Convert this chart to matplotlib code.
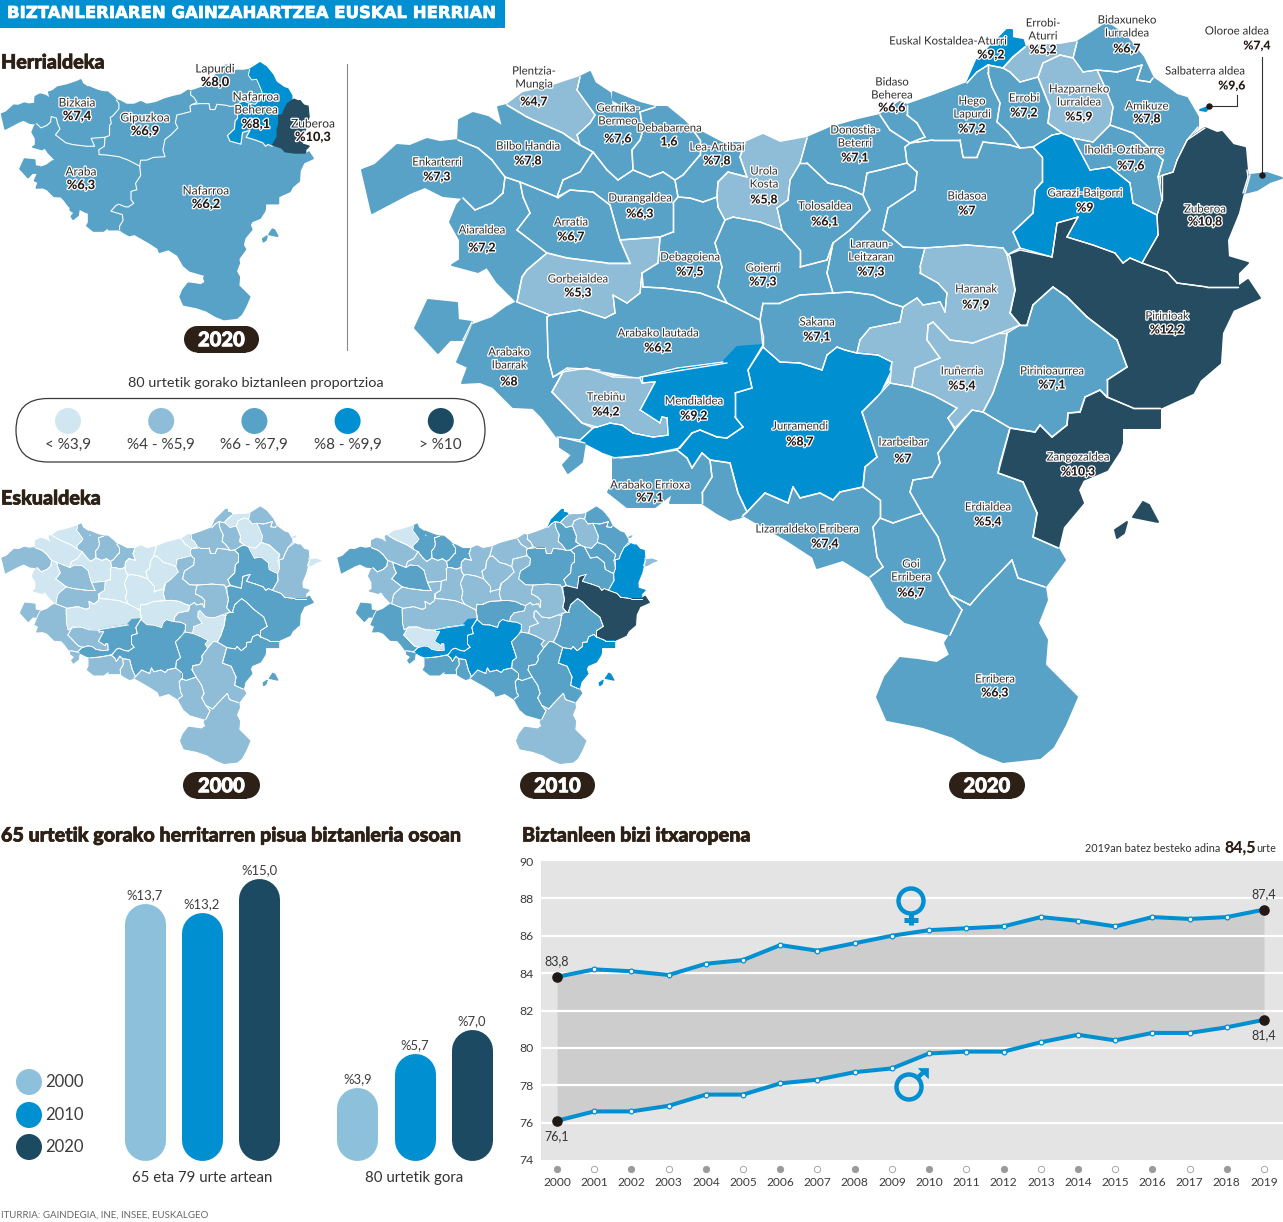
"""Biztanleriaren gainzahartzea Euskal Herrian: mapak, barrak eta bizi itxaropena."""
import matplotlib
matplotlib.use("Agg")
import matplotlib.pyplot as plt
import matplotlib.patheffects as pe
import numpy as np
from matplotlib.collections import LineCollection
from matplotlib.patches import Circle, FancyBboxPatch, Polygon

plt.rcParams["font.family"] = ["Lato", "DejaVu Sans"]

W, H = 1283, 1222
INK = "#2d2016"
GREY = "#3c3c3c"
BLUE = "#0090d2"
CLASS_COLORS = ["#d0e6f0", "#8fbdd7", "#59a2c7", "#0090d2", "#264c62"]
BAR_COLORS = ["#8dc0db", "#0090d2", "#1c4a63"]

# Eskualdeen ingeradak, 2020ko mapa handiaren pixeletan
outlines = {
    "Enkarterri": [(362,170),(375,165),(397,145),(410,146),(427,139),(440,142),(458,140),(478,148),(492,160),(505,177),(503,193),(492,203),(475,210),(463,198),(443,196),(425,187),(410,193),(372,213)],
    "Bilbo Handia": [(458,140),(459,120),(473,113),(488,117),(503,127),(498,107),(507,105),(527,117),(538,122),(563,133),(580,145),(593,152),(580,172),(563,180),(557,197),(540,190),(520,182),(505,177),(492,160),(478,148)],
    "Plentzia-Mungia": [(507,105),(523,93),(550,87),(580,77),(577,90),(595,115),(590,123),(577,135),(580,145),(563,133),(538,122),(527,117)],
    "Gernika-Bermeo": [(580,77),(590,72),(595,83),(610,93),(612,107),(625,107),(613,100),(613,92),(625,97),(640,103),(655,107),(640,112),(643,130),(640,140),(632,150),(633,170),(618,180),(607,170),(593,152),(580,145),(577,135),(590,123),(595,115),(577,90)],
    "Debabarrena": [(640,112),(655,107),(667,107),(683,120),(693,130),(700,140),(700,155),(683,175),(675,180),(663,172),(650,177),(633,170),(632,150),(640,140),(643,130)],
    "Lea-Artibai": [(693,130),(703,133),(722,143),(745,143),(740,157),(747,177),(728,172),(718,182),(717,197),(703,202),(690,198),(678,197),(675,180),(683,175),(700,155),(700,140)],
    "Urola Kosta": [(745,143),(763,135),(780,143),(807,138),(800,163),(790,180),(788,200),(777,208),(782,230),(760,222),(733,217),(725,220),(718,207),(717,197),(718,182),(728,172),(747,177),(740,157)],
    "Donostia-Beterri": [(807,138),(830,128),(858,120),(880,115),(890,130),(910,143),(905,147),(907,163),(880,170),(867,173),(863,195),(845,187),(828,183),(807,163),(800,163)],
    "Tolosaldea": [(790,180),(800,163),(807,163),(828,183),(845,187),(863,195),(870,210),(850,230),(833,243),(827,260),(800,267),(800,250),(782,230),(777,208),(788,200)],
    "Bidaso Beherea": [(880,115),(900,102),(907,105),(907,115),(917,123),(925,137),(910,143),(890,130)],
    "Hego Lapurdi": [(907,105),(933,96),(967,83),(977,72),(988,65),(988,73),(992,87),(1000,103),(997,122),(1008,132),(1020,148),(1010,145),(983,142),(977,157),(963,157),(960,140),(933,140),(910,143),(925,137),(917,123),(907,115)],
    "Euskal Kostaldea-Aturri": [(967,83),(977,60),(1000,37),(1007,30),(1012,30),(1012,38),(1023,40),(1025,47),(1013,57),(1003,68),(988,65),(977,72)],
    "Errobi-Aturri": [(1003,68),(1013,57),(1025,47),(1040,45),(1060,45),(1077,42),(1073,58),(1060,55),(1043,63),(1038,77),(1020,82),(1010,72)],
    "Errobi": [(988,65),(1003,68),(1010,72),(1020,82),(1038,77),(1042,87),(1050,107),(1048,123),(1062,133),(1052,135),(1033,147),(1020,148),(1008,132),(997,122),(1000,103),(992,87),(988,73)],
    "Hazparneko Iurraldea": [(1038,77),(1043,63),(1060,55),(1073,58),(1083,72),(1097,70),(1103,83),(1113,107),(1110,125),(1093,142),(1073,138),(1062,133),(1048,123),(1050,107),(1042,87)],
    "Bidaxuneko Iurraldea": [(1077,42),(1093,32),(1107,23),(1125,35),(1143,57),(1153,78),(1150,82),(1137,80),(1142,65),(1117,72),(1097,70),(1083,72),(1073,58)],
    "Amikuze": [(1097,70),(1117,72),(1142,65),(1137,80),(1150,82),(1153,78),(1177,95),(1187,98),(1198,117),(1198,127),(1187,140),(1177,160),(1173,172),(1158,177),(1163,160),(1133,133),(1110,125),(1113,107),(1103,83)],
    "Iholdi-Oztibarre": [(1110,125),(1133,133),(1163,160),(1158,177),(1162,200),(1157,215),(1133,203),(1130,183),(1110,167),(1090,170),(1073,138),(1093,142)],
    "Garazi-Baigorri": [(1033,147),(1052,135),(1062,133),(1073,138),(1090,170),(1110,167),(1130,183),(1133,203),(1157,215),(1158,235),(1142,263),(1130,258),(1123,263),(1115,253),(1093,245),(1067,237),(1078,217),(1057,223),(1052,257),(1020,248),(1013,232),(1033,213),(1035,190),(1042,182),(1042,157)],
    "Zuberoa": [(1205,128),(1217,133),(1222,132),(1233,145),(1245,148),(1247,170),(1248,177),(1243,193),(1238,213),(1227,240),(1228,257),(1248,263),(1238,273),(1238,287),(1207,287),(1177,283),(1167,272),(1142,263),(1158,235),(1157,215),(1162,200),(1162,175),(1173,172),(1177,160),(1187,140)],
    "Oloroe aldea": [(1245,193),(1250,175),(1267,173),(1282,178),(1270,182),(1257,190)],
    "Salbaterra aldea": [(1200,110),(1210,106),(1206,111)],
    "Pirinioak": [(1007,255),(1020,250),(1052,257),(1057,223),(1078,217),(1067,237),(1093,245),(1115,253),(1123,263),(1130,258),(1142,263),(1167,272),(1177,283),(1207,287),(1238,287),(1248,280),(1260,298),(1233,310),(1222,333),(1220,363),(1200,380),(1193,393),(1160,408),(1133,408),(1107,397),(1107,380),(1127,367),(1117,340),(1087,317),(1067,297),(1053,287),(1033,305),(1027,325),(1020,325),(1010,313),(1015,290)],
    "Zangozaldea": [(1100,390),(1107,397),(1133,408),(1160,408),(1160,428),(1122,428),(1122,443),(1120,450),(1107,470),(1083,480),(1078,490),(1083,503),(1063,527),(1058,548),(1033,537),(1037,513),(1023,482),(998,473),(1000,463),(1010,428),(1035,432),(1040,425),(1052,437),(1067,425),(1068,413),(1080,412),(1085,397)],
    "Zangozaldea uhartea 1": [(1143,502),(1149,505),(1158,522),(1133,517)],
    "Zangozaldea uhartea 2": [(1127,522),(1124,533),(1117,538),(1115,530)],
    "Pirinioaurrea": [(1053,287),(1067,297),(1087,317),(1117,340),(1127,367),(1107,380),(1107,397),(1100,390),(1085,397),(1080,412),(1068,413),(1067,425),(1052,437),(1040,425),(1035,432),(1010,428),(983,412),(993,393),(1003,363),(1007,333),(1020,325),(1027,325),(1033,305)],
    "Iruñerria": [(912,387),(915,368),(940,358),(927,340),(928,325),(933,322),(950,340),(973,343),(1000,333),(1007,333),(1003,363),(993,393),(983,412),(972,410),(955,428),(948,418),(957,408),(933,395)],
    "Haranak": [(920,267),(925,248),(967,245),(1003,248),(1010,257),(1015,290),(1010,313),(1020,325),(1000,333),(973,343),(950,340),(933,322),(928,325),(927,340),(940,358),(915,368),(912,387),(890,383),(892,362),(878,355),(857,353),(860,340),(870,328),(900,322),(903,307),(917,298),(923,305),(940,302),(945,312),(947,293),(938,283),(920,273)],
    "Larraun-Leitzaran": [(863,195),(867,173),(880,170),(907,163),(917,172),(915,190),(888,208),(883,230),(903,247),(925,248),(920,267),(920,273),(938,283),(947,293),(945,312),(940,302),(923,305),(917,298),(903,307),(890,303),(873,295),(850,292),(833,293),(827,273),(833,243),(850,230),(870,210)],
    "Bidasoa": [(910,143),(933,140),(960,140),(963,157),(977,157),(983,142),(1010,145),(1020,148),(1033,147),(1042,157),(1042,182),(1035,190),(1033,213),(1013,232),(1020,248),(1007,255),(1003,248),(967,245),(925,248),(903,247),(883,230),(888,208),(915,190),(917,172),(907,163),(905,147)],
    "Sakana": [(760,320),(763,303),(780,303),(800,295),(833,293),(850,292),(873,295),(890,303),(903,307),(900,322),(870,328),(860,340),(857,353),(845,350),(837,347),(827,355),(822,370),(800,363),(780,362),(763,347),(763,335)],
    "Goierri": [(725,220),(733,217),(760,222),(782,230),(800,250),(800,267),(827,260),(833,243),(827,273),(833,293),(800,295),(780,303),(763,303),(760,320),(727,303),(718,287),(722,267),(715,243)],
    "Debagoiena": [(678,197),(690,198),(703,202),(717,197),(718,207),(725,220),(715,243),(722,267),(718,287),(727,303),(700,293),(663,288),(643,287),(642,273),(658,263),(660,237),(673,232),(673,203)],
    "Durangaldea": [(593,152),(607,170),(618,180),(633,170),(650,177),(663,172),(675,180),(678,197),(673,203),(673,232),(660,237),(620,240),(617,230),(610,205),(593,192),(570,190),(558,198),(557,197),(563,180),(580,172)],
    "Arratia": [(520,182),(540,190),(557,197),(570,190),(593,192),(610,205),(617,230),(620,240),(630,263),(607,263),(567,258),(547,253),(517,230),(530,213),(523,197)],
    "Aiaraldea": [(505,177),(520,182),(523,197),(530,213),(517,230),(547,253),(527,270),(522,277),(517,302),(497,282),(487,267),(478,272),(452,265),(460,260),(460,240),(450,222),(457,205),(463,198),(475,210),(492,203),(503,193)],
    "Gorbeialdea": [(547,253),(567,258),(607,263),(630,263),(620,240),(660,237),(658,263),(642,273),(640,293),(627,303),(613,295),(615,313),(605,318),(580,310),(550,315),(517,302),(522,277),(527,270)],
    "Arabako lautada": [(550,315),(580,310),(605,318),(615,313),(613,295),(627,303),(640,293),(642,273),(643,287),(663,288),(700,293),(727,303),(760,320),(763,347),(737,352),(727,363),(683,370),(640,377),(600,370),(567,368),(553,377),(548,357),(547,317)],
    "Arabako Ibarrak": [(517,302),(550,315),(547,317),(548,357),(553,377),(563,372),(552,392),(582,423),(593,428),(580,440),(557,437),(542,417),(533,408),(513,407),(493,387),(480,382),(462,383),(468,367),(457,362),(473,325),(492,318),(507,307)],
    "Arabako Ibarrak enklabea": [(415,328),(428,300),(457,303),(458,320),(472,322),(463,340),(450,340),(438,353)],
    "Arabako Ibarrak hegoa": [(560,437),(585,443),(582,462),(568,473),(563,465),(572,455),(560,447)],
    "Trebiñu": [(563,372),(587,368),(613,377),(640,378),(642,383),(655,382),(640,410),(660,423),(662,417),(667,418),(668,435),(653,437),(633,433),(622,425),(610,423),(597,427),(582,423),(552,392)],
    "Mendialdea": [(642,377),(677,368),(723,362),(737,347),(763,345),(748,370),(752,388),(735,393),(735,417),(743,427),(727,438),(717,437),(700,430),(692,433),(680,448),(647,455),(620,458),(603,452),(580,440),(593,428),(597,427),(610,423),(622,425),(633,433),(653,437),(668,435),(667,418),(662,417),(660,423),(640,410),(655,382),(642,383)],
    "Jurramendi": [(763,347),(780,362),(800,363),(822,370),(827,355),(837,347),(845,350),(857,353),(878,355),(892,362),(890,370),(877,397),(862,412),(877,457),(865,467),(863,487),(840,492),(833,500),(820,493),(800,498),(793,487),(788,503),(765,493),(747,512),(738,493),(730,463),(710,460),(702,453),(692,468),(687,458),(677,450),(692,433),(700,430),(717,437),(727,438),(743,427),(735,417),(735,393),(752,388),(748,370)],
    "Arabako Errioxa": [(613,458),(647,455),(677,450),(687,458),(692,468),(702,453),(710,460),(712,477),(702,493),(702,503),(670,503),(673,493),(655,507),(627,507),(608,492),(613,483)],
    "Errioxa ekialdea": [(710,460),(730,463),(738,493),(747,512),(742,517),(730,520),(717,513),(702,503),(702,493),(712,477)],
    "Lizarraldeko Erribera": [(747,512),(765,493),(788,503),(793,487),(800,498),(820,493),(833,500),(840,492),(863,487),(880,500),(880,518),(873,527),(877,557),(883,567),(870,577),(843,560),(817,568),(813,557),(787,540),(743,515)],
    "Izarbeibar": [(890,383),(912,387),(933,395),(957,408),(948,418),(955,430),(938,453),(940,463),(932,477),(913,480),(910,492),(922,513),(893,523),(880,518),(880,500),(863,487),(865,467),(877,457),(862,412),(877,397)],
    "Erdialdea": [(955,430),(972,410),(983,412),(1010,428),(998,473),(1023,482),(1037,513),(1033,537),(1058,548),(1065,560),(1045,587),(1018,578),(1012,560),(983,590),(970,605),(950,595),(938,573),(945,560),(938,537),(922,513),(910,492),(913,480),(932,477),(940,463),(938,453)],
    "Goi Erribera": [(880,518),(893,523),(922,513),(938,537),(945,560),(938,573),(950,595),(962,610),(950,635),(905,622),(887,607),(870,577),(883,567),(877,557),(873,527)],
    "Erribera": [(950,595),(970,605),(983,590),(1012,560),(1018,578),(1045,587),(1047,600),(1038,623),(1047,640),(1045,665),(1057,677),(1077,697),(1065,725),(1053,747),(1040,758),(1003,762),(980,753),(953,737),(923,727),(887,720),(877,697),(885,677),(900,658),(918,660),(937,663),(950,655),(945,643),(950,635),(962,610)],
}

# Koloreen klasea eskualde bakoitzean (outlines-en ordena berean); -1: ez da marrazten
region_names = list(outlines)
class_2000 = [1,0,0,1,1,1,0,0,0,0,1,1,0,1,0,1,1,0,2,1,0,0,2,2,2,2,2,0,1,1,1,0,0,0,0,1,0,1,0,1,1,1,1,2,2,1,1,1,2,1,1,1]
class_2010 = [2,1,0,2,2,2,1,1,1,1,1,3,1,2,1,2,2,2,2,3,1,1,4,3,3,3,2,1,1,1,2,2,1,1,1,2,1,1,1,2,2,2,0,3,3,2,2,2,2,2,2,1]
class_2020 = [2,2,1,2,2,2,1,2,2,2,2,3,1,2,1,2,2,2,3,4,2,3,4,4,4,4,2,1,1,2,2,2,2,2,2,2,2,1,2,2,2,2,1,3,3,2,2,2,2,2,2,2]
class_province = [2,2,2,2,2,2,2,2,2,2,2,2,2,2,2,3,3,3,3,4,-1,-1,2,2,2,2,2,2,2,2,2,2,2,2,2,2,2,2,2,2,2,2,2,2,2,2,2,2,2,2,2,2]

# Herrialdeen arteko mugak (mapa handiaren pixeletan)
province_borders = [
    [(463,198),(475,210),(492,203),(503,193),(505,177),(520,182),(523,197),(530,213),(517,230),(547,253),(567,258),(607,263),(630,263),(620,240),(660,237)],
    [(693,130),(700,140),(700,155),(683,175),(675,180),(678,197),(673,203),(673,232),(660,237),(658,263),(642,273),(643,287),(663,288),(700,293),(727,303),(760,320)],
    [(760,320),(763,303),(780,303),(800,295),(833,293),(827,273),(833,243),(850,230),(870,210),(863,195),(867,173),(880,170),(907,163),(905,147),(910,143),(925,137),(917,123),(907,115),(907,105)],
    [(760,320),(763,347),(748,370),(752,388),(735,393),(735,417),(743,427),(727,438),(717,437),(700,430),(692,433),(677,450),(710,460),(712,477),(702,493),(702,503)],
    [(910,143),(933,140),(960,140),(963,157),(977,157),(983,142),(1010,145),(1020,148),(1033,147),(1052,135),(1062,133),(1073,138),(1093,142),(1110,125),(1113,107),(1103,83),(1097,70),(1083,72),(1073,58),(1077,42)],
    [(1033,147),(1042,157),(1042,182),(1035,190),(1033,213),(1013,232),(1020,248),(1052,257),(1057,223),(1078,217),(1067,237),(1093,245),(1115,253),(1123,263),(1130,258),(1142,263)],
]

# Mapa handiko etiketak: izena (lerroka), balioa, x, lehen lerroaren y, balioaren x eta y
region_labels = [
    (["Plentzia-", "Mungia"], "%4,7", 534, 71, 534, 102),
    (["Gernika-", "Bermeo"], "%7,6", 618, 108, 618, 139),
    (["Debabarrena"], "1,6", 669, 128, 669, 142),
    (["Lea-Artibai"], "%7,8", 717, 147, 717, 161),
    (["Bilbo Handia"], "%7,8", 528, 146, 528, 161),
    (["Enkarterri"], "%7,3", 437, 162, 437, 177),
    (["Durangaldea"], "%6,3", 640, 198, 640, 214),
    (["Arratia"], "%6,7", 571, 222, 571, 237),
    (["Aiaraldea"], "%7,2", 482, 230, 482, 248),
    (["Urola", "Kosta"], "%5,8", 764, 171, 764, 200),
    (["Donostia-", "Beterri"], "%7,1", 855, 130, 855, 158),
    (["Tolosaldea"], "%6,1", 825, 206, 825, 222),
    (["Bidaso", "Beherea"], "%6,6", 892, 82, 892, 108),
    (["Hego", "Lapurdi"], "%7,2", 972, 101, 972, 129),
    (["Euskal Kostaldea-Aturri"], "%9,2", 948, 41, 991, 55),
    (["Errobi-", "Aturri"], "%5,2", 1043, 23, 1043, 50),
    (["Errobi"], "%7,2", 1024, 98, 1024, 113),
    (["Hazparneko", "Iurraldea"], "%5,9", 1079, 89, 1079, 117),
    (["Bidaxuneko", "Iurraldea"], "%6,7", 1127, 20, 1127, 49),
    (["Amikuze"], "%7,8", 1147, 106, 1147, 119),
    (["Iholdi-Oztibarre"], "%7,6", 1124, 150, 1131, 166),
    (["Bidasoa"], "%7", 967, 196, 967, 211),
    (["Garazi-Baigorri"], "%9", 1085, 193, 1085, 208),
    (["Zuberoa"], "%10,8", 1205, 209, 1205, 222),
    (["Oloroe aldea"], "%7,4", 1237, 31, 1257, 46),
    (["Salbaterra aldea"], "%9,6", 1205, 71, 1232, 86),
    (["Larraun-", "Leitzaran"], "%7,3", 871, 244, 871, 272),
    (["Debagoiena"], "%7,5", 690, 257, 690, 272),
    (["Goierri"], "%7,3", 763, 268, 763, 282),
    (["Gorbeialdea"], "%5,3", 578, 279, 578, 293),
    (["Haranak"], "%7,9", 976, 289, 976, 305),
    (["Pirinioak"], "%12,2", 1167, 316, 1167, 330),
    (["Sakana"], "%7,1", 817, 322, 817, 337),
    (["Arabako lautada"], "%6,2", 658, 333, 658, 348),
    (["Arabako", "Ibarrak"], "%8", 509, 352, 509, 382),
    (["Iruñerria"], "%5,4", 962, 371, 962, 386),
    (["Pirinioaurrea"], "%7,1", 1052, 371, 1052, 385),
    (["Trebiñu"], "%4,2", 606, 397, 606, 412),
    (["Mendialdea"], "%9,2", 694, 401, 694, 416),
    (["Jurramendi"], "%8,7", 800, 426, 800, 442),
    (["Izarbeibar"], "%7", 903, 442, 903, 459),
    (["Zangozaldea"], "%10,3", 1078, 457, 1078, 472),
    (["Arabako Errioxa"], "%7,1", 650, 485, 650, 498),
    (["Erdialdea"], "%5,4", 988, 507, 988, 522),
    (["Lizarraldeko Erribera"], "%7,4", 807, 529, 825, 544),
    (["Goi", "Erribera"], "%6,7", 911, 564, 911, 593),
    (["Erribera"], "%6,3", 995, 679, 995, 693),
]
province_labels = [
    (["Lapurdi"], "%8,0", 215, 69, 215, 82),
    (["Bizkaia"], "%7,4", 77, 103, 77, 116),
    (["Gipuzkoa"], "%6,9", 145, 118, 145, 131),
    (["Nafarroa", "Beherea"], "%8,1", 256, 97, 256, 124),
    (["Zuberoa"], "%10,3", 313, 124, 313, 137),
    (["Araba"], "%6,3", 81, 172, 81, 185),
    (["Nafarroa"], "%6,2", 206, 191, 206, 204),
]

legend_labels = ["< %3,9", "%4 - %5,9", "%6 - %7,9", "%8 - %9,9", "> %10"]

# Barrak
bar_years = ["2000", "2010", "2020"]
bar_groups = ["65 eta 79 urte artean", "80 urtetik gora"]
bars_65_79 = [13.7, 13.2, 15.0]
bars_80 = [3.9, 5.7, 7.0]

# Bizi itxaropena
years = list(range(2000, 2020))
women = [83.8, 84.2, 84.1, 83.9, 84.5, 84.7, 85.5, 85.2, 85.6, 86.0, 86.3, 86.4, 86.5, 87.0, 86.8, 86.5, 87.0, 86.9, 87.0, 87.4]
men = [76.1, 76.6, 76.6, 76.9, 77.5, 77.5, 78.1, 78.3, 78.7, 78.9, 79.7, 79.8, 79.8, 80.3, 80.7, 80.4, 80.8, 80.8, 81.1, 81.5]


def px_axes(fig, left, top, right, bottom, **kw):
    return fig.add_axes([left / W, 1 - bottom / H, (right - left) / W, (bottom - top) / H], **kw)


def inner_segments(max_dist=3.0):
    # beste eskualde baten ondoan dauden zatiak bakarrik dira barne mugak; kostaldeak ez
    segs, owner = [], []
    for i, name in enumerate(region_names):
        pts = outlines[name]
        for a, b in zip(pts, pts[1:] + pts[:1]):
            segs.append((a, b))
            owner.append(i)
    segs = np.array(segs, dtype=float)
    owner = np.array(owner)
    a, b = segs[:, 0], segs[:, 1]
    d = b - a
    len2 = np.maximum((d ** 2).sum(axis=1), 1e-9)
    keep = []
    for k in range(len(segs)):
        mid = segs[k].mean(axis=0)
        t = np.clip(((mid - a) * d).sum(axis=1) / len2, 0, 1)
        dist = np.hypot(*(a + d * t[:, None] - mid).T)
        if dist[owner != owner[k]].min() < max_dist:
            keep.append(k)
    return segs[keep]


INNER = inner_segments()


def draw_map(ax, classes, ox, oy, k=1.0, ky=None, edge="white", lw=0.5, base=1.5):
    ky = k if ky is None else ky
    for name, cl in zip(region_names, classes):
        if cl < 0:
            continue
        pts = [(ox + (x - 362) * k, oy + (y - 23) * ky) for x, y in outlines[name]]
        ax.add_patch(Polygon(pts, closed=True, fc=CLASS_COLORS[cl], ec=CLASS_COLORS[cl], lw=base, joinstyle="round"))
    if edge is None:
        return
    moved = (INNER - [362, 23]) * [k, ky] + [ox, oy]
    ax.add_collection(LineCollection(moved, colors=edge, linewidths=lw, capstyle="round", zorder=2))


def put_labels(ax, labels, name_size=8.2, value_size=8.8):
    halo = [pe.withStroke(linewidth=1.8, foreground="white")]
    for lines, value, x, y, vx, vy in labels:
        for i, line in enumerate(lines):
            ax.text(x, y + i * 13, line, ha="center", va="center", fontsize=name_size,
                    color="#2e2e2e", path_effects=halo, zorder=4)
        ax.text(vx, vy, value, ha="center", va="center", fontsize=value_size, fontweight="black",
                color="#231815", path_effects=halo, zorder=4)


def pill(ax, x0, x1, y0, y1, label):
    r = (y1 - y0) / 2
    ax.add_patch(Circle((x0 + r, (y0 + y1) / 2), r, fc=INK, ec=INK, lw=0))
    ax.add_patch(Circle((x1 - r, (y0 + y1) / 2), r, fc=INK, ec=INK, lw=0))
    ax.add_patch(plt.Rectangle((x0 + r, y0), x1 - x0 - 2 * r, y1 - y0, fc=INK, ec=INK, lw=0))
    ax.text((x0 + x1) / 2, (y0 + y1) / 2 + 0.5, label, ha="center", va="center",
            color="white", fontsize=14.5, fontweight="black",
            path_effects=[pe.withStroke(linewidth=0.6, foreground="white")])


def draw_bars(fig):
    ax = px_axes(fig, 0, 860, 510, 1160.7)
    ax.set_xlim(0, 510)
    ax.set_ylim(0, 300.7 / 18.8)
    ax.axis("off")
    width_px = 41
    cap = width_px / 2 / 18.8
    for center, values in zip((202, 414.5), (bars_65_79, bars_80)):
        for i, v in enumerate(values):
            x = center + (i - 1) * 57.2
            ax.vlines(x, cap, v - cap, color=BAR_COLORS[i], lw=width_px * 72 / 100, capstyle="round")
            ax.text(x, v + 0.12, f"%{v:.1f}".replace(".", ","), ha="center", va="bottom",
                    fontsize=9.4, color=GREY)


def draw_life(fig):
    ax = px_axes(fig, 540.5, 861, 1283, 1160)
    ax.set_facecolor("#e4e4e4")
    step = (1264 - 557) / 19
    ax.set_xlim(2000 - 16.5 / step, 2019 + 19 / step)
    ax.set_ylim(74, 90)
    for s in ax.spines.values():
        s.set_visible(False)
    ax.fill_between(years, men, women, color="#cdcdcd", lw=0, zorder=1)
    ax.hlines(range(76, 90, 2), *ax.get_xlim(), color="white", lw=1.6, zorder=2)
    for series in (women, men):
        ax.plot(years, series, color=BLUE, lw=2.9, zorder=3, solid_capstyle="round")
        ax.plot(years[1:-1], series[1:-1], ls="", marker="o", ms=3.4, mfc="white", mec=BLUE, mew=0.9, zorder=4)
        ax.plot([years[0], years[-1]], [series[0], series[-1]], ls="", marker="o", ms=6.6, color="#231815", zorder=5)
    ax.set_yticks(range(74, 92, 2))
    ax.set_xticks(years)
    ax.tick_params(length=0)
    ax.tick_params(axis="y", pad=5, labelsize=8.8, labelcolor=GREY)
    ax.tick_params(axis="x", pad=12, labelsize=8.6, labelcolor=GREY)
    trans = ax.get_xaxis_transform()
    for yr in years:
        filled = (yr - 2000) % 2 == 0
        ax.plot(yr, -0.03, marker="o", ms=4.6, mfc="#9a9a9a" if filled else "white",
                mec="#9a9a9a", mew=0.6, transform=trans, clip_on=False)
    for yr, val, txt in ((2000, 83.8, "83,8"), (2000, 76.1, "76,1"), (2019, 87.4, "87,4"), (2019, 81.5, "81,4")):
        up = txt in ("83,8", "87,4")
        ax.annotate(txt, (yr, val), xytext=(0, 11 if up else -11), textcoords="offset points",
                    ha="center", va="center", fontsize=9, color="#333333", zorder=6)


def draw_gender_signs(fig):
    # ♀ eta ♂ ikurrak, grafikoaren gainean
    ax = px_axes(fig, 0, 0, W, H)
    ax.set_xlim(0, W)
    ax.set_ylim(H, 0)
    ax.axis("off")
    ax.patch.set_visible(False)
    ring = dict(fc="none", ec=BLUE, lw=3.2)
    ax.add_patch(Circle((911, 901), 12.5, **ring))
    ax.plot([911, 911], [914, 925], color=BLUE, lw=3.6, solid_capstyle="butt")
    ax.plot([904, 918], [919.5, 919.5], color=BLUE, lw=3.6, solid_capstyle="butt")
    ax.add_patch(Circle((909, 1087), 12.5, **ring))
    ax.plot([917, 925], [1078, 1071], color=BLUE, lw=3.2, solid_capstyle="butt")
    ax.add_patch(Polygon([(918, 1068), (928, 1068), (928, 1078)], closed=True, fc=BLUE, ec=BLUE, lw=0.5))


def main():
    fig = plt.figure(figsize=(W / 100, H / 100), dpi=100, facecolor="white")
    ax = px_axes(fig, 0, 0, W, H)
    ax.set_xlim(0, W)
    ax.set_ylim(H, 0)
    ax.axis("off")

    # Goiburua eta atalen izenburuak
    ax.add_patch(plt.Rectangle((0, 0), 505, 27.5, fc=BLUE, ec="none"))
    ax.text(7, 13, "BIZTANLERIAREN GAINZAHARTZEA EUSKAL HERRIAN", ha="left", va="center",
            color="white", fontsize=11.9, fontweight="bold", family="DejaVu Sans",
            path_effects=[pe.withStroke(linewidth=0.5, foreground="white")])
    for x, y, txt in ((1, 62, "Herrialdeka"), (1, 498, "Eskualdeka"),
                      (1, 835, "65 urtetik gorako herritarren pisua biztanleria osoan"),
                      (522, 835, "Biztanleen bizi itxaropena")):
        ax.text(x, y, txt, ha="left", va="center", color=INK, fontsize=14.2, fontweight="black",
                path_effects=[pe.withStroke(linewidth=0.5, foreground=INK)])

    # Mapak
    draw_map(ax, class_2020, 362, 23, lw=1.0, base=1.4)
    draw_map(ax, class_province, 1.7, 63, 0.3467, 0.347, edge=None, base=1.3)
    for line in province_borders:
        xs = [1.7 + (x - 362) * 0.3467 for x, _ in line]
        ys = [63 + (y - 23) * 0.347 for _, y in line]
        ax.plot(xs, ys, color="white", lw=0.8, solid_joinstyle="round", zorder=2)
    draw_map(ax, class_2000, 2, 507, 0.3467, 0.347, lw=0.6, base=0.8)
    draw_map(ax, class_2010, 338, 507, 0.3467, 0.347, lw=0.6, base=0.8)
    put_labels(ax, region_labels)
    put_labels(ax, province_labels, 8.6, 9.2)

    # Loturak
    ax.plot([1209, 1237, 1237], [106, 106, 95], color="#333333", lw=0.8, zorder=3)
    ax.plot([1262, 1262], [175, 57], color="#333333", lw=0.8, zorder=3)
    ax.plot([1209, 1262], [106, 175], ls="", marker="o", ms=3.6, color="#231815", zorder=3)

    ax.plot([347, 347], [64, 350], color="#8a8a8a", lw=0.8)
    pill(ax, 184, 259, 326, 352.5, "2020")
    pill(ax, 183, 260, 772, 798.5, "2000")
    pill(ax, 520, 595, 772, 798.5, "2010")
    pill(ax, 949, 1025, 772, 798.5, "2020")

    # Legenda
    ax.text(256, 383, "80 urtetik gorako biztanleen proportzioa", ha="center", va="center",
            fontsize=10.4, color="#333333")
    ax.add_patch(FancyBboxPatch((16, 398.5), 469, 63.5, boxstyle="round,pad=0,rounding_size=31.7",
                                fc="none", ec="#3a3a3a", lw=0.9))
    for i, lab in enumerate(legend_labels):
        x = 68 + i * 93.2
        ax.add_patch(Circle((x, 421), 13, fc=CLASS_COLORS[i] if i < 4 else BAR_COLORS[2], ec="none"))
        ax.text(x, 445, lab, ha="center", va="center", fontsize=11, color=GREY)

    # Barren legenda eta taldeak
    for i, (yr, y) in enumerate(zip(bar_years, (1082, 1115, 1147))):
        ax.add_patch(Circle((29, y), 13, fc=BAR_COLORS[i], ec="none"))
        ax.text(45, y, yr, ha="left", va="center", fontsize=12, color=GREY)
    for x, txt in zip((202, 414.5), bar_groups):
        ax.text(x, 1178, txt, ha="center", va="center", fontsize=10.8, color="#333333")
    ax.text(1, 1215, "ITURRIA: GAINDEGIA, INE, INSEE, EUSKALGEO", ha="left", va="center",
            fontsize=7, color="#666666")

    # Bizi itxaropenaren oharra
    ax.text(1220, 848, "2019an batez besteko adina", ha="right", va="center", fontsize=7.8, color="#333333")
    ax.text(1240, 847, "84,5", ha="center", va="center", fontsize=11.5, fontweight="black", color=INK)
    ax.text(1276, 848, "urte", ha="right", va="center", fontsize=7.8, color="#333333")

    draw_bars(fig)
    draw_life(fig)
    draw_gender_signs(fig)

    fig.savefig("out.png", dpi=100)


if __name__ == "__main__":
    main()
